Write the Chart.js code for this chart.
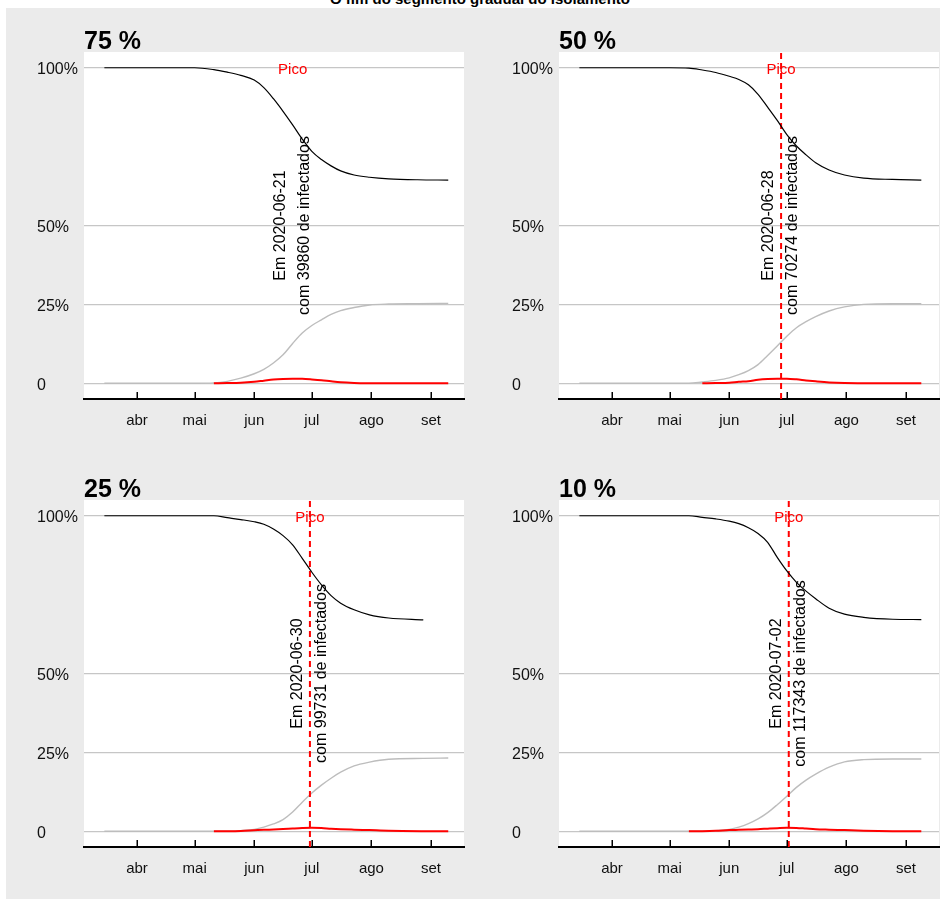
<!DOCTYPE html>
<html lang="pt">
<head>
<meta charset="utf-8">
<script src="https://cdn.jsdelivr.net/npm/chart.js@4.4.1/dist/chart.umd.min.js"></script>
<style>
  html, body { margin: 0; padding: 0; background: #fff; }
  body { width: 940px; height: 899px; position: relative; overflow: hidden;
         font-family: "Liberation Sans", Arial, sans-serif; }
  #fundo { position: absolute; left: 6px; top: 8px; width: 934px; height: 891px; background: #ebebeb; }
  #titulo { position: absolute; left: 0; width: 960px; top: -9px; text-align: center;
            font-weight: bold; font-size: 15px; line-height: 15px; white-space: nowrap; color: #000; }
  canvas { position: absolute; }
</style>
</head>
<body>
<div id="fundo"></div>
<div id="titulo">O fim do segmento gradual do isolamento</div>
<canvas id="g75" width="470" height="440" style="left:0;top:8px"></canvas>
<canvas id="g50" width="465" height="440" style="left:475px;top:8px"></canvas>
<canvas id="g25" width="470" height="440" style="left:0;top:456px"></canvas>
<canvas id="g10" width="465" height="440" style="left:475px;top:456px"></canvas>
<script>
// ---- eixo do tempo e rótulos ----
const mesesRotulos = ['abr', 'mai', 'jun', 'jul', 'ago', 'set'];
const mesesInicio  = ['2020-04-01', '2020-05-01', '2020-06-01', '2020-07-01', '2020-08-01', '2020-09-01'];
const eixoYValores = [0, 25, 50, 100];
const eixoYRotulos = ['0', '25%', '50%', '100%'];

// ---- cenários de isolamento ----
const cenarios       = ['75 %', '50 %', '25 %', '10 %'];
const picoDatas      = ['2020-06-21', '2020-06-28', '2020-06-30', '2020-07-02'];
const picoInfectados = [39860, 70274, 99731, 117343];
const picoLinha      = [false, true, true, true];

// ---- 75 % ----
const datas75       = ['2020-03-15','2020-05-01','2020-05-11','2020-05-18','2020-05-25','2020-06-01','2020-06-06','2020-06-11','2020-06-16','2020-06-21','2020-06-26','2020-07-01','2020-07-06','2020-07-11','2020-07-16','2020-07-23','2020-07-31','2020-08-10','2020-08-25','2020-09-10'];
const suscetiveis75 = [100,100,99.4,98.6,97.6,96.1,93.7,90.2,86.2,81.9,77.4,73.5,70.9,68.9,67.3,66.0,65.3,64.8,64.5,64.4];
const recuperados75 = [0,0,0.1,0.6,1.6,3.0,4.4,6.4,9.0,12.6,15.9,18.3,20.1,21.8,23.0,24.0,24.8,25.1,25.2,25.3];
const infectados75  = [null,null,0,0.05,0.15,0.45,0.8,1.15,1.35,1.45,1.4,1.2,0.95,0.6,0.3,0.1,0.02,0,0,0];

// ---- 50 % ----
const datas50       = ['2020-03-15','2020-05-01','2020-05-11','2020-05-18','2020-05-25','2020-06-01','2020-06-06','2020-06-11','2020-06-16','2020-06-21','2020-06-26','2020-07-01','2020-07-06','2020-07-11','2020-07-16','2020-07-23','2020-07-31','2020-08-10','2020-08-25','2020-09-09'];
const suscetiveis50 = [100,100,99.9,99.3,98.5,97.3,96.3,94.6,91.6,87.5,83.3,78.8,75.2,72.4,69.9,67.6,66.0,65.0,64.6,64.4];
const recuperados50 = [0,0,0,0.4,0.9,1.7,2.7,4.0,5.9,8.8,11.8,14.9,17.6,19.5,21.1,22.9,24.2,25.0,25.2,25.2];
const infectados50  = [null,null,null,0,0.05,0.15,0.45,0.65,1.1,1.35,1.45,1.45,1.25,0.9,0.6,0.25,0.05,0,0,0];

// ---- 25 % ----
const datas25       = ['2020-03-15','2020-05-01','2020-05-11','2020-05-18','2020-05-25','2020-06-01','2020-06-06','2020-06-11','2020-06-16','2020-06-21','2020-06-26','2020-07-01','2020-07-06','2020-07-11','2020-07-16','2020-07-23','2020-07-31','2020-08-10','2020-08-28','2020-09-10'];
const suscetiveis25 = [100,100,100,99.4,98.8,98.1,97.3,95.8,93.7,90.8,86.5,82.1,78.1,74.7,72.3,70.2,68.6,67.6,67.0,null];
const recuperados25 = [0,0,0,0,0.2,0.6,1.3,2.3,3.7,6.1,9.2,12.1,14.6,16.8,18.7,20.7,21.9,22.8,23.1,23.2];
const infectados25  = [null,null,0,0.02,0.1,0.3,0.45,0.55,0.68,0.85,1.0,1.08,1.0,0.8,0.65,0.5,0.35,0.15,0.02,0];

// ---- 10 % ----
const datas10       = ['2020-03-15','2020-05-01','2020-05-11','2020-05-18','2020-05-25','2020-06-01','2020-06-06','2020-06-11','2020-06-16','2020-06-21','2020-06-26','2020-07-01','2020-07-06','2020-07-11','2020-07-16','2020-07-23','2020-07-31','2020-08-10','2020-08-25','2020-09-09'];
const suscetiveis10 = [100,100,100,99.5,99.0,98.3,97.5,96.2,94.4,91.6,86.8,82.5,78.9,76.1,73.7,70.7,68.8,67.8,67.2,67.1];
const recuperados10 = [0,0,0,0,0.2,0.6,1.3,2.4,3.9,5.9,8.4,11.1,13.9,16.2,18.1,20.3,22.0,22.7,22.9,22.9];
const infectados10  = [null,null,0,0.02,0.12,0.35,0.45,0.55,0.65,0.82,0.98,1.1,1.05,0.85,0.65,0.5,0.35,0.15,0.02,0];

// dias contados a partir de 1º de março de 2020
const BASE = Date.UTC(2020, 2, 1);
function dia(s) {
  const [a, m, d] = s.split('-').map(Number);
  return (Date.UTC(a, m - 1, d) - BASE) / 86400000;
}
function pontos(datas, valores) {
  return datas.map((d, i) => ({ x: dia(d), y: valores[i] })).filter(p => p.y !== null);
}

const FONTE = '"Liberation Sans", Arial, sans-serif';
Chart.defaults.font.family = FONTE;

// fundo branco da área de plotagem
const fundoBranco = {
  id: 'fundoBranco',
  beforeDraw(chart) {
    const { ctx, chartArea: a } = chart;
    ctx.save();
    ctx.fillStyle = '#ffffff';
    ctx.fillRect(a.left, a.top, a.right - a.left, a.bottom - a.top);
    ctx.restore();
  }
};

// marcas dos meses voltadas para dentro, sobre o eixo
const marcasX = {
  id: 'marcasX',
  afterDraw(chart) {
    const s = chart.scales.x, ctx = chart.ctx, b = chart.chartArea.bottom;
    ctx.save();
    ctx.strokeStyle = '#000';
    ctx.lineWidth = 1.5;
    s.ticks.forEach(t => {
      const x = Math.round(s.getPixelForValue(t.value)) + 0.25;
      ctx.beginPath();
      ctx.moveTo(x, b);
      ctx.lineTo(x, b - 7);
      ctx.stroke();
    });
    ctx.restore();
  }
};

// título do painel, marcador "Pico" e texto vertical do pico
const anotacao = {
  id: 'anotacao',
  afterDatasetsDraw(chart, args, o) {
    const { ctx, chartArea: a, scales: { x, y } } = chart;
    const px = x.getPixelForValue(dia(o.data));
    ctx.save();
    ctx.fillStyle = '#000';
    ctx.font = 'bold 25px ' + FONTE;
    ctx.textAlign = 'left';
    ctx.textBaseline = 'alphabetic';
    ctx.fillText(o.titulo, a.left, a.top - 3);

    ctx.font = '15px ' + FONTE;
    ctx.fillStyle = '#ff0000';
    ctx.textAlign = 'center';
    ctx.textBaseline = 'middle';
    ctx.fillText('Pico', px, y.getPixelForValue(100) + 2);

    ctx.translate(px, y.getPixelForValue(50));
    ctx.rotate(-Math.PI / 2);
    ctx.font = '16px ' + FONTE;
    ctx.fillStyle = '#000';
    ctx.fillText('Em ' + o.data, 0, -12);
    ctx.fillText('com ' + o.infectados + ' de infectados', 0, 12);
    ctx.restore();
  }
};

const ticksMeses = mesesInicio.map(dia);

function painel(id, k, datas, susc, infe, recu, padDireita) {
  const dPico = dia(picoDatas[k]);
  new Chart(document.getElementById(id), {
    type: 'line',
    data: {
      datasets: [
        { data: pontos(datas, susc), borderColor: '#000000', borderWidth: 1.2 },
        { data: picoLinha[k] ? [{ x: dPico, y: -5 }, { x: dPico, y: 105 }] : [],
          borderColor: '#ff0000', borderWidth: 2, borderDash: [6, 4], cubicInterpolationMode: 'default' },
        { data: pontos(datas, infe), borderColor: '#ff0000', borderWidth: 2 },
        { data: pontos(datas, recu), borderColor: '#bdbdbd', borderWidth: 1.4 }
      ]
    },
    options: {
      responsive: false,
      animation: false,
      devicePixelRatio: 1,
      elements: {
        point: { radius: 0, hoverRadius: 0 },
        line: { cubicInterpolationMode: 'monotone', fill: false }
      },
      layout: { padding: { left: 37, right: padDireita, top: 44, bottom: 0 } },
      plugins: {
        legend: { display: false },
        tooltip: { enabled: false },
        anotacao: { titulo: cenarios[k], data: picoDatas[k], infectados: picoInfectados[k] }
      },
      scales: {
        x: {
          type: 'linear',
          min: 3.4,
          max: 201.2,
          afterBuildTicks: s => { s.ticks = ticksMeses.map(v => ({ value: v })); },
          afterFit: s => { s.height = 49; },
          ticks: {
            autoSkip: false, maxRotation: 0, padding: 13,
            color: '#111', font: { size: 15 },
            callback: v => mesesRotulos[ticksMeses.indexOf(v)]
          },
          grid: { display: false, drawTicks: false },
          border: { display: true, color: '#000', width: 2 }
        },
        y: {
          min: -5,
          max: 105,
          afterBuildTicks: s => { s.ticks = eixoYValores.map(v => ({ value: v })); },
          afterFit: s => { s.width = 47; },
          ticks: {
            crossAlign: 'far', padding: 0, labelOffset: 2,
            color: '#111', font: { size: 16 },
            callback: v => eixoYRotulos[eixoYValores.indexOf(v)]
          },
          grid: { color: '#c6c6c6', lineWidth: 1.2, drawTicks: false },
          border: { display: false }
        }
      }
    },
    plugins: [fundoBranco, anotacao, marcasX]
  });
}

painel('g75', 0, datas75, suscetiveis75, infectados75, recuperados75, 6);
painel('g50', 1, datas50, suscetiveis50, infectados50, recuperados50, 1);
painel('g25', 2, datas25, suscetiveis25, infectados25, recuperados25, 6);
painel('g10', 3, datas10, suscetiveis10, infectados10, recuperados10, 1);
</script>
</body>
</html>
